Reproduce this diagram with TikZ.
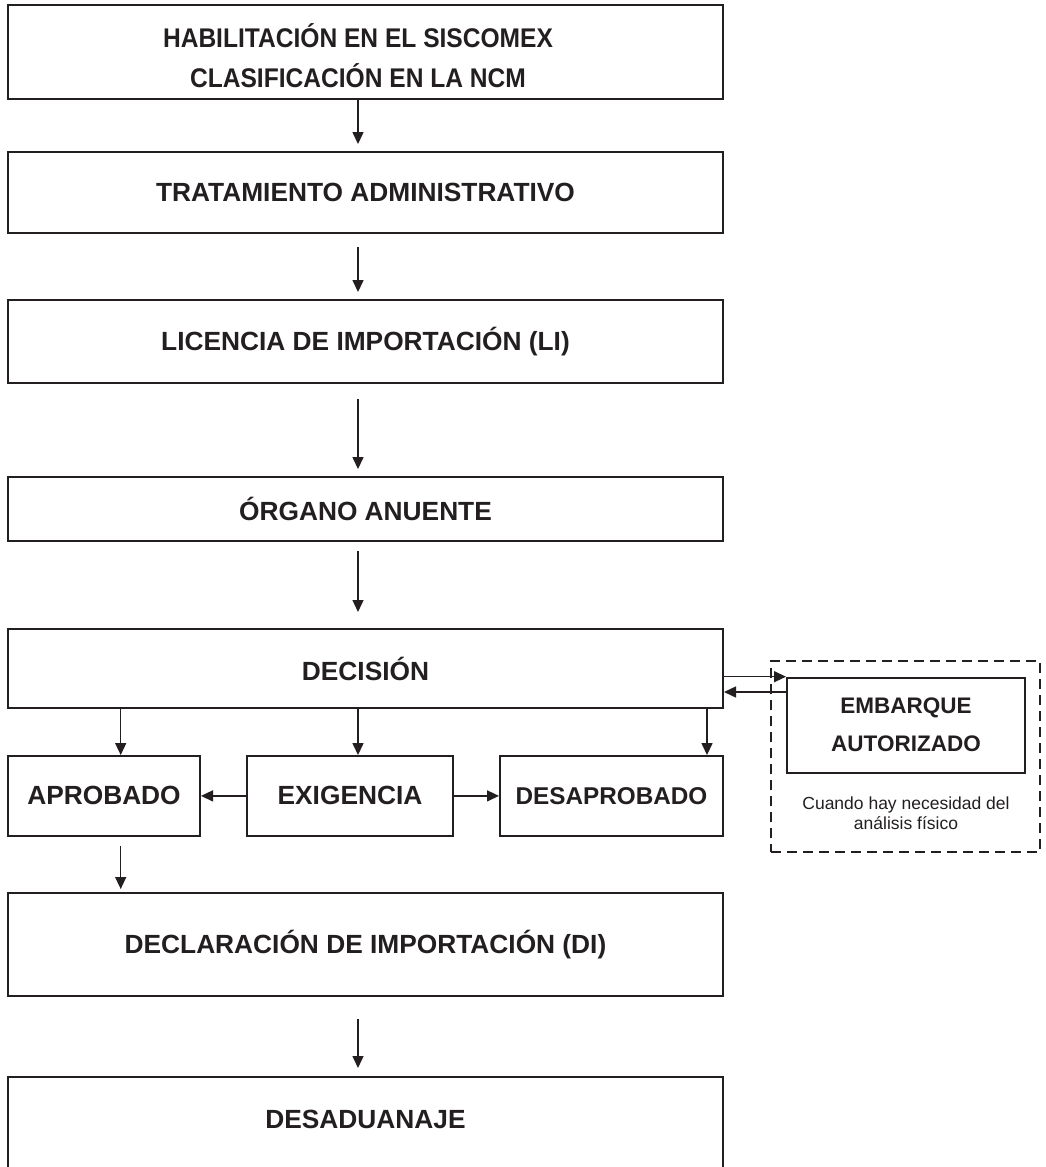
\documentclass[tikz,border=0pt]{standalone}
\usepackage{fontspec}
\setmainfont{Liberation Sans}
\newfontfamily\condfont[FakeStretch=0.91]{Liberation Sans}
\usetikzlibrary{arrows.meta}
\definecolor{ink}{HTML}{231F20}
\begin{document}
\begin{tikzpicture}[x=1pt,y=-1pt,
  box/.style={draw=ink, line width=2pt, inner sep=0pt, align=center, text=ink,
    font=\fontsize{26.3}{30}\selectfont\bfseries},
  mainbox/.style={box, minimum width=715pt},
  arr/.style={draw=ink, line width=1.4pt, -{Triangle[length=12pt,width=11pt]}},
  dashbox/.style={draw=ink, line width=1.8pt, dash pattern=on 10pt off 6pt, inner sep=0pt},
  note/.style={inner sep=0pt, align=center, text=ink, font=\fontsize{17.5}{20}\selectfont},
]
\clip (0,0) rectangle (1046,1167);
\fill[white] (0,0) rectangle (1046,1167);

\node[mainbox, minimum height=94.3pt] (b1) at (365.5,52.2) {};
\node[inner sep=0pt, align=center, text=ink, font=\condfont\fontsize{27}{40}\selectfont\bfseries] (b1text) at (358,56) {HABILITACIÓN EN EL SISCOMEX\\CLASIFICACIÓN EN LA NCM};
\node[mainbox, minimum height=80.7pt] (b2) at (365.5,192.4) {TRATAMIENTO ADMINISTRATIVO};
\node[mainbox, minimum height=82.7pt] (b3) at (365.5,341.4) {LICENCIA DE IMPORTACIÓN (LI)};
\node[mainbox, minimum height=63.7pt] (b4) at (365.5,508.9) {ÓRGANO ANUENTE};
\node[mainbox, minimum height=79pt] (b5) at (365.5,668.5) {DECISIÓN};

\node[box, minimum width=192pt, minimum height=79.7pt] (apr) at (104,795.9) {APROBADO};
\node[box, minimum width=206pt, minimum height=79.7pt] (exi) at (350,795.9) {EXIGENCIA};
\node[box, minimum width=223pt, minimum height=79.7pt, font=\fontsize{24.3}{28}\selectfont\bfseries] (des) at (611.5,795.9) {DESAPROBADO};

\node[mainbox, minimum height=103pt] (di) at (365.5,944.5) {DECLARACIÓN DE IMPORTACIÓN (DI)};
\node[mainbox, minimum height=113pt] (desad) at (365.5,1133.5) {};
\node[inner sep=0pt, text=ink, font=\fontsize{26.3}{30}\selectfont\bfseries] (desadtext) at (365.5,1119) {DESADUANAJE};

\node[dashbox, minimum width=269pt, minimum height=191pt] (dash) at (905.5,756.5) {};
\node[box, minimum width=238pt, minimum height=95pt, font=\fontsize{22.5}{38}\selectfont\bfseries] (emb) at (906,725.2) {EMBARQUE\\AUTORIZADO};
\node[note] (nota) at (906,813) {Cuando hay necesidad del\\análisis físico};

\coordinate (xa) at (120.7,0);
\coordinate (xm) at (358,0);
\coordinate (xd) at (707,0);
\coordinate (yb) at (0,692);

\draw[arr] (b1.south -| xm) -- ([yshift=7pt]b2.north -| xm);
\draw[arr] ([yshift=-13.3pt]b2.south -| xm) -- ([yshift=7pt]b3.north -| xm);
\draw[arr] ([yshift=-15.3pt]b3.south -| xm) -- ([yshift=7pt]b4.north -| xm);
\draw[arr] ([yshift=-9.3pt]b4.south -| xm) -- ([yshift=16pt]b5.north -| xm);

\draw[arr] (b5.south -| xa) -- (apr.north -| xa);
\draw[arr] (b5.south -| xm) -- (exi.north -| xm);
\draw[arr] (b5.south -| xd) -- (des.north -| xd);
\draw[arr] (exi.west) -- (apr.east);
\draw[arr] (exi.east) -- (des.west);

\draw[arr] ([yshift=-9.3pt]apr.south -| xa) -- ([yshift=3pt]di.north -| xa);
\draw[arr] ([yshift=-22.3pt]di.south -| xm) -- ([yshift=8pt]desad.north -| xm);

\draw[arr] (b5.east |- emb.north west) -- (emb.north west);
\draw[arr] (emb.west |- yb) -- (b5.east |- yb);
\end{tikzpicture}
\end{document}
